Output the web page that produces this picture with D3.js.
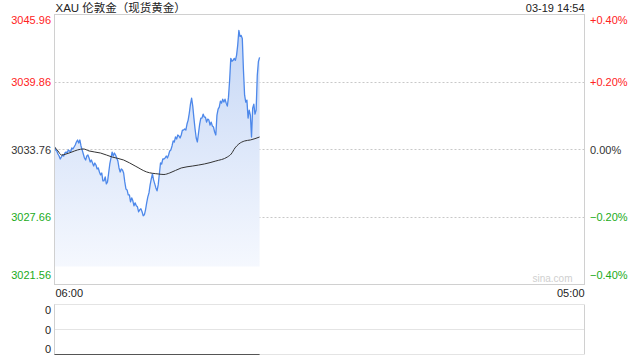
<!DOCTYPE html>
<html>
<head>
<meta charset="utf-8">
<script src="https://cdn.jsdelivr.net/npm/d3@7"></script>
<style>
body { margin: 0; background: #fff; }
text { font-family: Arial, "Liberation Sans", "Noto Sans CJK SC", sans-serif; }
</style>
</head>
<body>
<div id="chart"></div>
<script>

var title = "XAU 伦敦金（现货黄金）"
var stamp = "03-19 14:54"
var day = "2025-03-19"
var sessionStart = "2025-03-19 06:00"
var sessionEnd = "2025-03-20 05:00"
var stepMinutes = 3
var prevClose = 3033.76
var yTicks = [3045.96, 3039.86, 3033.76, 3027.66, 3021.56]
var xLabels = ["06:00", "05:00"]

// one price every 3 minutes from 06:00 to 14:54
var prices = [
  3033.99, 3033.72, 3033.63, 3033.35, 3033.17, 3032.90, 3033.08, 3033.26, 3033.17, 3033.44,
  3033.53, 3033.44, 3033.72, 3033.63, 3033.53, 3033.90, 3033.81, 3033.99, 3034.17, 3034.44,
  3034.62, 3034.35, 3034.62, 3034.08, 3033.72, 3033.35, 3032.99, 3032.81, 3033.17, 3033.26,
  3032.99, 3032.63, 3032.81, 3032.54, 3032.27, 3032.54, 3032.36, 3032.00, 3032.09, 3031.73,
  3031.46, 3031.64, 3030.92, 3030.92, 3031.28, 3030.65, 3030.83, 3031.64, 3032.45, 3032.99,
  3033.53, 3033.17, 3033.44, 3033.26, 3032.99, 3032.72, 3032.09, 3031.73, 3032.00, 3031.91,
  3031.64, 3030.83, 3030.20, 3030.11, 3029.66, 3029.66, 3029.03, 3029.39, 3029.12, 3028.67,
  3028.94, 3028.67, 3028.58, 3028.13, 3028.31, 3028.40, 3028.13, 3027.77, 3027.86, 3028.31,
  3028.94, 3029.48, 3029.84, 3030.56, 3031.10, 3031.55, 3031.01, 3030.65, 3030.29, 3030.02,
  3030.56, 3031.55, 3032.54, 3032.45, 3032.90, 3032.90, 3032.99, 3033.17, 3032.99, 3033.26,
  3033.63, 3033.72, 3034.08, 3034.53, 3034.44, 3034.89, 3034.71, 3035.07, 3034.98, 3034.80,
  3035.07, 3035.52, 3035.52, 3035.61, 3035.52, 3036.06, 3036.42, 3037.05, 3037.86, 3038.40,
  3037.68, 3036.60, 3035.61, 3034.80, 3034.44, 3035.25, 3036.06, 3036.60, 3036.60, 3036.96,
  3036.69, 3036.69, 3036.24, 3036.51, 3036.42, 3035.97, 3036.24, 3035.88, 3035.79, 3035.34,
  3035.07, 3036.87, 3037.41, 3037.59, 3038.13, 3037.95, 3038.31, 3038.04, 3038.31, 3037.95,
  3037.68, 3038.49, 3040.02, 3042.00, 3041.73, 3041.82, 3042.00, 3041.82, 3042.27, 3043.17,
  3044.52, 3043.98, 3044.07, 3043.80, 3040.92, 3038.67, 3038.04, 3038.22, 3036.60, 3037.32,
  3036.87, 3034.89, 3037.50, 3037.86, 3036.96, 3037.32, 3040.47, 3041.73, 3042.09
]

// average price line
var avgTimes = ["06:00", "06:09", "06:18", "06:30", "06:45", "07:00", "07:15", "07:30", "08:00", "08:30",
  "09:00", "09:30", "10:00", "10:30", "10:45", "11:00", "11:30", "12:00", "12:30", "13:00",
  "13:30", "13:40", "13:50", "14:00", "14:15", "14:30", "14:54"]
var avgPrices = [3033.99, 3033.63, 3033.26, 3033.35, 3033.53, 3033.72, 3033.81, 3033.63, 3033.44, 3033.08,
  3032.81, 3032.27, 3031.73, 3031.55, 3031.50, 3031.64, 3032.09, 3032.27, 3032.45, 3032.72,
  3033.08, 3033.35, 3033.90, 3034.26, 3034.53, 3034.62, 3034.89]

var volTimes = ["06:00", "14:54"]
var volValues = [0, 0]
var volLabels = ["0", "0", "0"]

var width = 640, height = 360
var plotL = 54.5, plotR = 584.5, plotT = 14.5, plotB = 284.5
var volT = 304.5, volB = 354.5

var parse = d3.timeParse("%Y-%m-%d %H:%M")
var t0 = parse(sessionStart)

var svg = d3.select("#chart")
  .append("svg")
    .attr("width", width)
    .attr("height", height)

var x = d3.scaleTime()
  .domain([t0, parse(sessionEnd)])
  .range([plotL, plotR])

var y = d3.scaleLinear()
  .domain(d3.extent(yTicks))
  .range([plotB, plotT])

var series = prices.map(function(p, i) {
  return {t: d3.timeMinute.offset(t0, i * stepMinutes), v: p}
})
var avg = avgTimes.map(function(s, i) {
  return {t: parse(day + " " + s), v: avgPrices[i]}
})

// gradient under the price line
var grad = svg.append("defs").append("linearGradient")
  .attr("id", "fillGrad")
  .attr("gradientUnits", "userSpaceOnUse")
  .attr("x1", 0).attr("y1", plotT)
  .attr("x2", 0).attr("y2", plotB - 18)
grad.append("stop").attr("offset", 0).attr("stop-color", "rgb(195,213,245)")
grad.append("stop").attr("offset", 1).attr("stop-color", "rgb(245,248,254)")

// grid lines
svg.selectAll(".grid")
  .data(yTicks.slice(1, -1))
  .enter()
  .append("line")
    .attr("x1", plotL).attr("x2", plotR)
    .attr("y1", function(d) { return Math.round(y(d)) + 0.5 })
    .attr("y2", function(d) { return Math.round(y(d)) + 0.5 })
    .attr("stroke", "#c8c8c8")
    .attr("stroke-dasharray", "2,2")

svg.append("path")
  .datum(series)
  .attr("fill", "url(#fillGrad)")
  .attr("d", d3.area()
    .x(function(d) { return x(d.t) })
    .y0(plotB - 18)
    .y1(function(d) { return y(d.v) })
  )

svg.append("path")
  .datum(series)
  .attr("fill", "none")
  .attr("stroke", "#4d88ea")
  .attr("stroke-width", 1.3)
  .attr("stroke-linejoin", "round")
  .attr("d", d3.line()
    .x(function(d) { return x(d.t) })
    .y(function(d) { return y(d.v) })
  )

svg.append("path")
  .datum(avg)
  .attr("fill", "none")
  .attr("stroke", "#333")
  .attr("stroke-width", 1)
  .attr("d", d3.line()
    .curve(d3.curveMonotoneX)
    .x(function(d) { return x(d.t) })
    .y(function(d) { return y(d.v) })
  )

// frame of the price panel
svg.append("rect")
  .attr("x", plotL).attr("y", plotT)
  .attr("width", plotR - plotL).attr("height", plotB - plotT)
  .attr("fill", "none")
  .attr("stroke", "#d0d0d0")

// axis labels
function labelColor(v) {
  if (v > prevClose) return "#f22"
  if (v < prevClose) return "#1aab1a"
  return "#333"
}
function labelY(v) {
  return Math.max(plotT + 9, Math.min(plotB - 6, y(v) + 4))
}
var pctFmt = d3.format("+.2f")

svg.selectAll(".ylab")
  .data(yTicks)
  .enter()
  .append("text")
    .attr("x", plotL - 3.5)
    .attr("y", labelY)
    .attr("text-anchor", "end")
    .attr("font-size", 11)
    .attr("fill", labelColor)
    .text(function(d) { return d.toFixed(2) })

svg.selectAll(".plab")
  .data(yTicks)
  .enter()
  .append("text")
    .attr("x", plotR + 5.5)
    .attr("y", labelY)
    .attr("font-size", 11)
    .attr("fill", labelColor)
    .text(function(d) {
      var p = (d / prevClose - 1) * 100
      return (Math.abs(p) < 0.005 ? "0.00" : pctFmt(p)) + "%"
    })

svg.append("text")
  .attr("x", plotL + 1)
  .attr("y", 11.5)
  .attr("font-size", 11.5)
  .attr("fill", "#222")
  .text(title)

svg.append("text")
  .attr("x", plotR)
  .attr("y", 11.5)
  .attr("text-anchor", "end")
  .attr("font-size", 11)
  .attr("fill", "#222")
  .text(stamp)

svg.append("text")
  .attr("x", plotR - 12)
  .attr("y", plotB - 3)
  .attr("text-anchor", "end")
  .attr("font-size", 10)
  .attr("fill", "#cfcfcf")
  .text("sina.com")

svg.append("text")
  .attr("x", plotL + 1)
  .attr("y", 296.5)
  .attr("font-size", 11)
  .attr("fill", "#222")
  .text(xLabels[0])

svg.append("text")
  .attr("x", plotR)
  .attr("y", 296.5)
  .attr("text-anchor", "end")
  .attr("font-size", 11)
  .attr("fill", "#222")
  .text(xLabels[1])

// volume panel
var vy = d3.scaleLinear().domain([0, 1]).range([volB, volT])
var vlab = d3.scalePoint().domain(d3.range(volLabels.length)).range([volT, volB])

svg.selectAll(".vgrid")
  .data([volT, (volT + volB) / 2, volB])
  .enter()
  .append("line")
    .attr("x1", plotL).attr("x2", plotR)
    .attr("y1", function(d) { return Math.round(d - 0.5) + 0.5 })
    .attr("y2", function(d) { return Math.round(d - 0.5) + 0.5 })
    .attr("stroke", "#c8c8c8")
    .attr("stroke-dasharray", "1,1")

svg.append("line")
  .attr("x1", plotL).attr("x2", plotL)
  .attr("y1", volT).attr("y2", volB)
  .attr("stroke", "#d0d0d0")
svg.append("line")
  .attr("x1", plotR).attr("x2", plotR)
  .attr("y1", volT).attr("y2", volB)
  .attr("stroke", "#d0d0d0")

svg.append("path")
  .datum(volTimes.map(function(s, i) { return {t: parse(day + " " + s), v: volValues[i]} }))
  .attr("fill", "none")
  .attr("stroke", "#555")
  .attr("d", d3.line()
    .x(function(d) { return x(d.t) })
    .y(function(d) { return vy(d.v) })
  )

svg.selectAll(".vlab")
  .data(volLabels)
  .enter()
  .append("text")
    .attr("x", plotL - 3.5)
    .attr("y", function(d, i) { return Math.max(volT + 9.5, Math.min(volB - 2, vlab(i) + 4)) })
    .attr("text-anchor", "end")
    .attr("font-size", 11)
    .attr("fill", "#222")
    .text(function(d) { return d })

</script>
</body>
</html>
